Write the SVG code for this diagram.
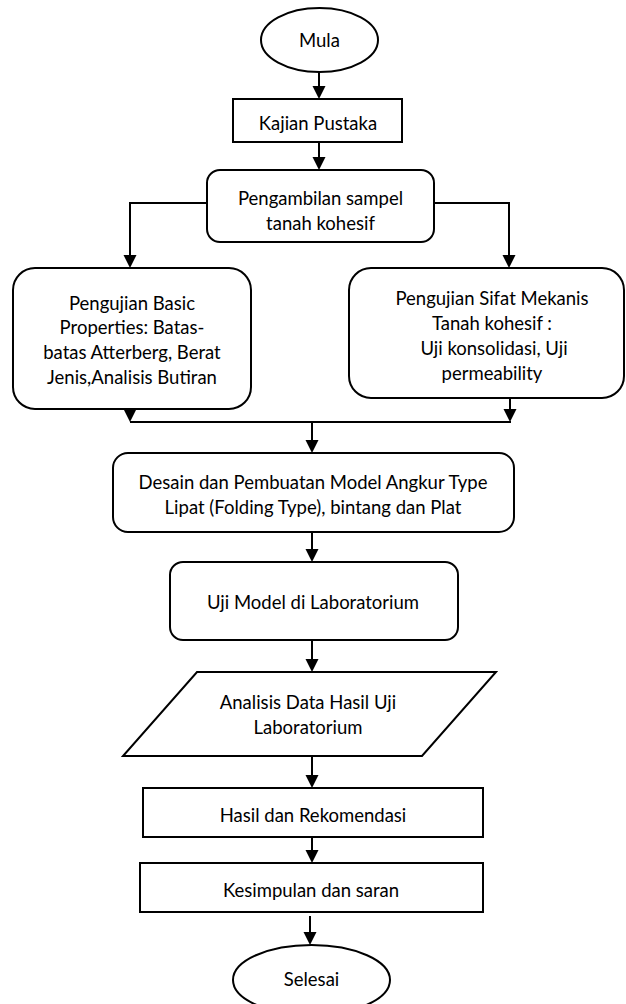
<svg xmlns="http://www.w3.org/2000/svg" width="626" height="1004" viewBox="0 0 626 1004">
<style>
.s{fill:#fff;stroke:#000;stroke-width:2}
.c{fill:none;stroke:#000;stroke-width:2}
text{font-family:Lato,"Open Sans","Liberation Sans",sans-serif;font-size:18.5px;fill:#000;text-anchor:middle}
</style>
<defs>
<marker id="ah" markerUnits="userSpaceOnUse" markerWidth="14" markerHeight="14" refX="9" refY="6.5" orient="auto">
<path d="M0,0 L13,6.5 L0,13 z" fill="#000"/>
</marker>
</defs>
<rect width="626" height="1004" fill="#fff"/>
<g id="connectors">
<line class="c" x1="319" y1="72" x2="319" y2="95" marker-end="url(#ah)"/>
<line class="c" x1="319" y1="142" x2="319" y2="166" marker-end="url(#ah)"/>
<polyline class="c" points="207,203 130,203 130,264" marker-end="url(#ah)"/>
<polyline class="c" points="434,203 509,203 509,264" marker-end="url(#ah)"/>
<line class="c" x1="130" y1="390" x2="130" y2="418" marker-end="url(#ah)"/>
<line class="c" x1="510" y1="390" x2="510" y2="418" marker-end="url(#ah)"/>
<line class="c" x1="130" y1="422" x2="511" y2="422"/>
<line class="c" x1="312" y1="422" x2="312" y2="449" marker-end="url(#ah)"/>
<line class="c" x1="312" y1="532" x2="312" y2="558" marker-end="url(#ah)"/>
<line class="c" x1="312" y1="640" x2="312" y2="668" marker-end="url(#ah)"/>
<line class="c" x1="312" y1="756" x2="312" y2="784" marker-end="url(#ah)"/>
<line class="c" x1="312" y1="837" x2="312" y2="859" marker-end="url(#ah)"/>
<line class="c" x1="310" y1="916" x2="310" y2="941" marker-end="url(#ah)"/>
</g>
<g id="mula">
<ellipse class="s" cx="319.5" cy="40" rx="58.5" ry="32"/>
<text x="319.5" y="47">Mula</text>
</g>
<g id="kajian">
<rect class="s" x="233" y="99" width="169" height="43"/>
<text x="318" y="129.5">Kajian Pustaka</text>
</g>
<g id="pengambilan">
<rect class="s" x="207" y="170" width="227" height="72" rx="13"/>
<text x="320.5" y="204.5">Pengambilan sampel</text>
<text x="320.5" y="229.5">tanah kohesif</text>
</g>
<g id="basic">
<rect class="s" x="13" y="268" width="238" height="141" rx="22"/>
<text x="132" y="309.5">Pengujian Basic</text>
<text x="132" y="333.5">Properties: Batas-</text>
<text x="132" y="358.5">batas Atterberg, Berat</text>
<text x="132" y="383.5">Jenis,Analisis Butiran</text>
</g>
<g id="mekanis">
<rect class="s" x="349" y="268" width="275" height="130" rx="22"/>
<text x="492" y="304.5">Pengujian Sifat Mekanis</text>
<text x="492" y="329.5">Tanah kohesif :</text>
<text x="494" y="354.5">Uji konsolidasi, Uji</text>
<text x="492" y="379.5">permeability</text>
</g>
<g id="desain">
<rect class="s" x="113" y="453" width="401" height="79" rx="15"/>
<text x="313" y="488.5">Desain dan Pembuatan Model Angkur Type</text>
<text x="313" y="513.5">Lipat (Folding Type), bintang dan Plat</text>
</g>
<g id="ujimodel">
<rect class="s" x="170" y="562" width="288" height="78" rx="13"/>
<text x="313" y="608.5">Uji Model di Laboratorium</text>
</g>
<g id="analisis">
<polygon class="s" points="197,672 496,672 422,756 123,756"/>
<text x="308" y="708.5">Analisis Data Hasil Uji</text>
<text x="308" y="733.5">Laboratorium</text>
</g>
<g id="hasil">
<rect class="s" x="143" y="788" width="340" height="49"/>
<text x="313" y="821.5">Hasil dan Rekomendasi</text>
</g>
<g id="kesimpulan">
<rect class="s" x="140" y="863" width="343" height="49"/>
<text x="311" y="896.5">Kesimpulan dan saran</text>
</g>
<g id="selesai">
<ellipse class="s" cx="311.5" cy="980" rx="78.5" ry="35"/>
<text x="311.5" y="985.5">Selesai</text>
</g>
</svg>
